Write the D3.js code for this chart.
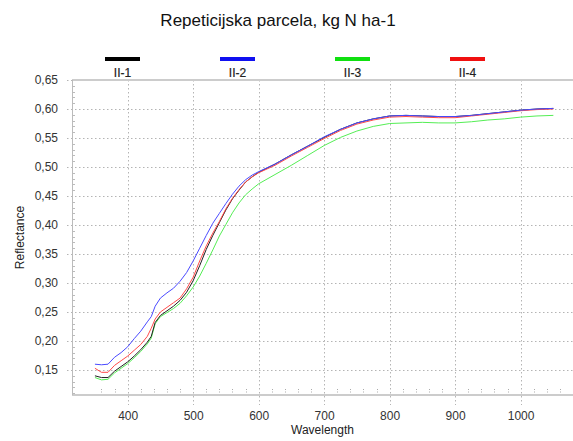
<!DOCTYPE html>
<html>
<head>
<meta charset="utf-8">
<script src="https://cdn.jsdelivr.net/npm/d3@7"></script>
<style>
  body { margin: 0; background: #fff; }
  svg { display: block; font-family: "Liberation Sans", Arial, sans-serif; }
</style>
</head>
<body>
<div id="svg-container"></div>
<script>
// data
const wavelengths = [350, 360, 370, 380, 390, 400, 410, 420, 430, 436, 442, 450, 460, 470, 480, 490, 500, 510, 520, 530, 540, 550, 560, 570, 580, 590, 600, 625, 650, 675, 700, 725, 750, 775, 800, 825, 850, 875, 900, 925, 950, 975, 1000, 1025, 1050];
const ii1 = [0.140, 0.137, 0.137, 0.148, 0.156, 0.164, 0.174, 0.185, 0.198, 0.208, 0.232, 0.244, 0.252, 0.260, 0.270, 0.284, 0.304, 0.330, 0.358, 0.382, 0.404, 0.426, 0.445, 0.460, 0.474, 0.483, 0.491, 0.505, 0.521, 0.536, 0.551, 0.565, 0.576, 0.583, 0.588, 0.589, 0.588, 0.587, 0.587, 0.589, 0.592, 0.595, 0.598, 0.600, 0.601];
const ii2 = [0.160, 0.159, 0.160, 0.172, 0.180, 0.190, 0.204, 0.217, 0.233, 0.242, 0.260, 0.274, 0.283, 0.291, 0.303, 0.318, 0.338, 0.360, 0.382, 0.403, 0.420, 0.437, 0.453, 0.467, 0.478, 0.486, 0.492, 0.505, 0.521, 0.536, 0.552, 0.565, 0.576, 0.583, 0.588, 0.589, 0.588, 0.587, 0.587, 0.589, 0.592, 0.595, 0.598, 0.600, 0.601];
const ii3 = [0.137, 0.133, 0.134, 0.145, 0.153, 0.161, 0.171, 0.182, 0.195, 0.205, 0.230, 0.242, 0.249, 0.256, 0.265, 0.278, 0.293, 0.312, 0.334, 0.357, 0.381, 0.401, 0.421, 0.438, 0.452, 0.462, 0.471, 0.487, 0.503, 0.520, 0.537, 0.551, 0.562, 0.570, 0.575, 0.576, 0.577, 0.576, 0.576, 0.578, 0.581, 0.583, 0.586, 0.588, 0.589];
const ii4 = [0.153, 0.146, 0.146, 0.158, 0.166, 0.174, 0.184, 0.194, 0.208, 0.222, 0.238, 0.250, 0.258, 0.266, 0.274, 0.290, 0.310, 0.338, 0.364, 0.386, 0.406, 0.428, 0.446, 0.461, 0.474, 0.483, 0.490, 0.503, 0.519, 0.534, 0.549, 0.563, 0.574, 0.581, 0.586, 0.587, 0.586, 0.585, 0.585, 0.588, 0.591, 0.594, 0.597, 0.599, 0.600];

const seriesNames = ["II-1", "II-2", "II-3", "II-4"];
const seriesValues = [ii1, ii2, ii3, ii4];
const lineColors = ["#222222", "#4a4aff", "#55ee55", "#ff4a4a"];
const swatchColors = ["#000000", "#1010f0", "#10e010", "#f01010"];

const xTicks = [400, 500, 600, 700, 800, 900, 1000];
const yTicks = [0.15, 0.20, 0.25, 0.30, 0.35, 0.40, 0.45, 0.50, 0.55, 0.60, 0.65];

const title = "Repeticijska parcela, kg N ha-1";
const xTitle = "Wavelength";
const yTitle = "Reflectance";

////////////////////////////  Init  ///////////////////////////////
const width = 573;
const height = 441;
const margin = { top: 80, right: 0, bottom: 46, left: 72 };

const svg = d3.select("#svg-container").append("svg")
  .attr("width", width)
  .attr("height", height);

const xScale = d3.scaleLinear().domain([315, 1080]).range([margin.left, width - margin.right]);
const yScale = d3.scaleLinear().domain([0.1069, 0.65]).range([height - margin.bottom, margin.top]);

const x0 = margin.left, x1 = width - margin.right;
const y0 = height - margin.bottom, y1 = margin.top;

// title
svg.append("text")
  .attr("x", 278).attr("y", 26)
  .attr("text-anchor", "middle")
  .attr("font-size", 17)
  .attr("fill", "#111")
  .text(title);

// legend
const legendX = d3.scalePoint().domain(seriesNames).range([122.5, 467.5]);
const legend = svg.append("g").selectAll("g").data(seriesNames).join("g")
  .attr("transform", (d) => `translate(${legendX(d)},0)`);
legend.append("rect")
  .attr("x", -17.5).attr("y", 57).attr("width", 35).attr("height", 4)
  .attr("fill", (d, i) => swatchColors[i]);
legend.append("text")
  .attr("y", 77).attr("text-anchor", "middle")
  .attr("font-size", 12).attr("fill", "#222")
  .attr("stroke", "#222").attr("stroke-width", 0.2)
  .text((d) => d);

// grid
const grid = svg.append("g").attr("stroke", "#b4b4b4").attr("stroke-dasharray", "1.5,2.5").attr("stroke-width", 1);
grid.selectAll(".gx").data(xTicks).join("line")
  .attr("x1", (d) => Math.round(xScale(d)) + 0.5).attr("x2", (d) => Math.round(xScale(d)) + 0.5)
  .attr("y1", y1).attr("y2", y0 + 10);
grid.selectAll(".gy").data(yTicks).join("line")
  .attr("x1", x0 - 5).attr("x2", x1)
  .attr("y1", (d) => Math.round(yScale(d)) + 0.5).attr("y2", (d) => Math.round(yScale(d)) + 0.5);

// minor ticks
const minorX = d3.range(360, 1080, 20).filter((d) => d % 100 !== 0);
svg.append("g").attr("stroke", "#aaa").attr("stroke-dasharray", "1,1.5")
  .selectAll("line").data(minorX).join("line")
  .attr("x1", (d) => Math.round(xScale(d)) + 0.5).attr("x2", (d) => Math.round(xScale(d)) + 0.5)
  .attr("y1", y0 - 6).attr("y2", y0);
const minorY = d3.range(0.11, 0.65, 0.01).filter((d) => Math.round(d * 100) % 5 !== 0);
svg.append("g").attr("stroke", "#bbb")
  .selectAll("line").data(minorY).join("line")
  .attr("x1", x0).attr("x2", x0 + 3)
  .attr("y1", (d) => Math.round(yScale(d)) + 0.5).attr("y2", (d) => Math.round(yScale(d)) + 0.5);

// frame
svg.append("line").attr("x1", x0).attr("x2", x1).attr("y1", y1).attr("y2", y1)
  .attr("stroke", "#ccc").attr("stroke-width", 2);
svg.append("line").attr("x1", x0).attr("x2", x1).attr("y1", y0).attr("y2", y0)
  .attr("stroke", "#ccc").attr("stroke-width", 2);
svg.append("line").attr("x1", x0 + 0.5).attr("x2", x0 + 0.5).attr("y1", y1).attr("y2", y0)
  .attr("stroke", "#bbb").attr("stroke-width", 1);

// axes labels
const xAxis = d3.axisBottom(xScale).tickValues(xTicks).tickSize(0).tickPadding(16).tickFormat(d3.format("d"));
svg.append("g").attr("transform", `translate(0,${y0})`).call(xAxis)
  .call((g) => g.select(".domain").remove())
  .call((g) => g.selectAll("text").attr("font-size", 12).attr("fill", "#333").attr("font-family", "Liberation Sans, Arial, sans-serif"));

const yAxis = d3.axisLeft(yScale).tickValues(yTicks).tickSize(0).tickPadding(14)
  .tickFormat((d) => d3.format(".2f")(d).replace(".", ","));
svg.append("g").attr("transform", `translate(${x0},0)`).call(yAxis)
  .call((g) => g.select(".domain").remove())
  .call((g) => g.selectAll("text").attr("font-size", 12).attr("fill", "#333").attr("font-family", "Liberation Sans, Arial, sans-serif"));

svg.append("text")
  .attr("x", (x0 + x1) / 2).attr("y", 434)
  .attr("text-anchor", "middle").attr("font-size", 12).attr("fill", "#222")
  .text(xTitle);
svg.append("text")
  .attr("transform", `translate(24,${(y0 + y1) / 2}) rotate(-90)`)
  .attr("text-anchor", "middle").attr("font-size", 12).attr("fill", "#222")
  .text(yTitle);

// lines
const line = d3.line()
  .x((d, i) => xScale(wavelengths[i]))
  .y((d) => yScale(d));

svg.append("g").selectAll("path").data([ii3, ii1, ii4, ii2]).join("path")
  .attr("d", line)
  .attr("fill", "none")
  .attr("stroke", (d) => lineColors[seriesValues.indexOf(d)])
  .attr("stroke-width", 1);
</script>
</body>
</html>
